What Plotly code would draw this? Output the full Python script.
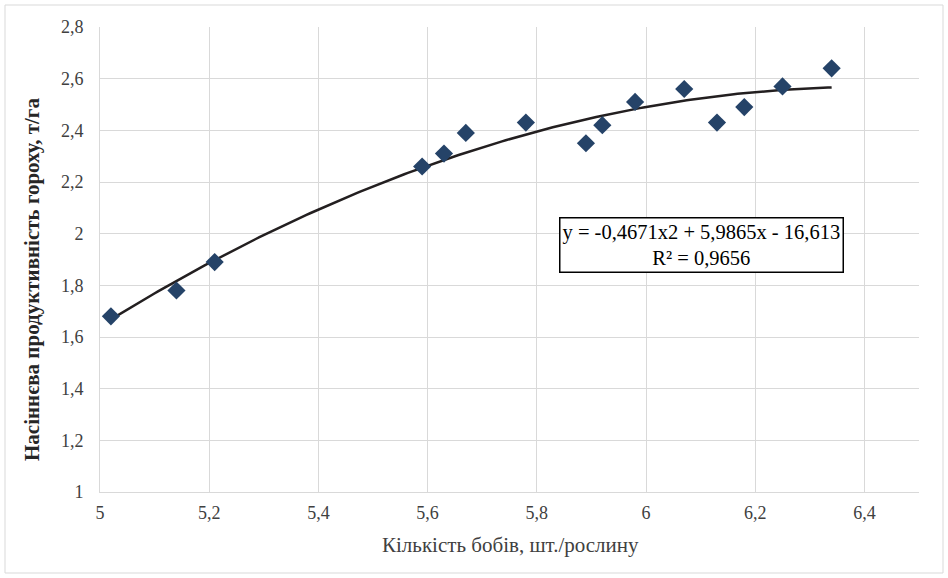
import numpy as np
import plotly.graph_objects as go

# Data
pods = [5.02, 5.14, 5.21, 5.59, 5.63, 5.67, 5.78, 5.89, 5.92, 5.98, 6.07, 6.13, 6.18, 6.25, 6.34]
yield_t = [1.68, 1.78, 1.89, 2.26, 2.31, 2.39, 2.43, 2.35, 2.42, 2.51, 2.56, 2.43, 2.49, 2.57, 2.64]
# Polynomial trend coefficients as displayed on the chart (a2, a1, a0)
trend_coef = [-0.4671, 5.9865, -16.613]
x_ticks = [5.0, 5.2, 5.4, 5.6, 5.8, 6.0, 6.2, 6.4]
y_ticks = [1.0, 1.2, 1.4, 1.6, 1.8, 2.0, 2.2, 2.4, 2.6, 2.8]
eq_text = "y = -0,4671x2 + 5,9865x - 16,613<br>R² = 0,9656"
x_title = "Кількість бобів, шт./рослину"
y_title = "Насіннєва продуктивність гороху, т/га"

xs = np.linspace(min(pods), max(pods), 200)
ys = np.polyval(trend_coef, xs)

FONT = "'Liberation Serif', 'Times New Roman', serif"
GRID = "#d9d9d9"

fig = go.Figure()
fig.add_trace(go.Scatter(x=xs, y=ys, mode="lines",
                         line=dict(color="#231f20", width=2.5),
                         hoverinfo="skip", showlegend=False))
fig.add_trace(go.Scatter(x=pods, y=yield_t, mode="markers",
                         marker=dict(symbol="diamond", size=14, color="#254368",
                                     line=dict(width=0)),
                         showlegend=False))

W, H = 948, 578
L, R, T, B = 100, 29, 27, 86
pw, ph = W - L - R, H - T - B

def px2paper_x(px):
    return (px - L) / pw

def px2paper_y(py):
    return (H - B - py) / ph

fig.update_layout(
    width=W, height=H,
    margin=dict(l=L, r=R, t=T, b=B),
    paper_bgcolor="white", plot_bgcolor="white",
    separators=", ",
    font=dict(family=FONT, size=18, color="#262626"),
    xaxis=dict(range=[5, 6.5], tickvals=x_ticks, showgrid=True, gridcolor=GRID, gridwidth=1,
               zeroline=False, showline=True, linecolor=GRID, linewidth=1,
               ticks="", ticklabelstandoff=4,
               tickfont=dict(family=FONT, size=18, color="#404040")),
    yaxis=dict(range=[1, 2.8], tickvals=y_ticks, showgrid=True, gridcolor=GRID, gridwidth=1,
               zeroline=False, showline=True, linecolor=GRID, linewidth=1,
               ticks="", ticklabelstandoff=12,
               tickfont=dict(family=FONT, size=18, color="#404040")),
    shapes=[
        dict(type="rect", xref="paper", yref="paper",
             x0=px2paper_x(5), x1=px2paper_x(943), y0=px2paper_y(573), y1=px2paper_y(5),
             line=dict(color=GRID, width=1), fillcolor="rgba(0,0,0,0)", layer="below"),
    ],
    annotations=[
        dict(xref="paper", yref="paper", x=px2paper_x(701), y=px2paper_y(245),
             text=eq_text, showarrow=False, align="center",
             font=dict(family=FONT, size=20.5, color="#000000"),
             bgcolor="white", bordercolor="#000000", borderwidth=1.5, borderpad=2,
             xanchor="center", yanchor="middle"),
        dict(xref="paper", yref="paper", x=px2paper_x(510), y=px2paper_y(545),
             text=x_title, showarrow=False,
             font=dict(family=FONT, size=21, color="#404040"),
             xanchor="center", yanchor="middle"),
        dict(xref="paper", yref="paper", x=px2paper_x(32), y=px2paper_y(280),
             text="<b>" + y_title + "</b>", showarrow=False, textangle=-90,
             font=dict(family=FONT, size=21, color="#262626"),
             xanchor="center", yanchor="middle"),
    ],
)

fig.write_html("out.html")
